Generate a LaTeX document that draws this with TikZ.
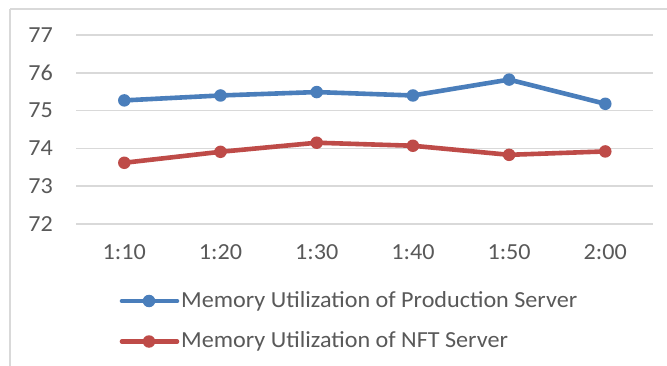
\documentclass[tikz,border=0pt]{standalone}
\usepackage{fontspec}
\setmainfont[FakeStretch=1.05]{Carlito}
\definecolor{serblue}{HTML}{4A7EBB}
\definecolor{serred}{HTML}{BE4B48}
\definecolor{gridc}{HTML}{D9D9D9}
\definecolor{txtc}{HTML}{595959}
\tikzset{
  gridline/.style={draw=gridc, line width=1.6pt},
  frameline/.style={draw=gridc, line width=1.6pt},
  lbl/.style={text=txtc, inner sep=0pt, font=\fontsize{23}{26}\selectfont},
  serline/.style={line width=4.6pt, line cap=round, line join=round},
  mk/.style={circle, inner sep=0pt, minimum size=12.5pt},
}
\begin{document}
\begin{tikzpicture}[x=1pt, y=-1pt]
\useasboundingbox (0,0) rectangle (667,366);
\fill[white] (0,0) rectangle (667,366);
% frame
\draw[frameline] (10,9) -- (670,9);
\draw[frameline] (10,9) -- (10,370);
% grid and y labels
\foreach \v/\yy in {77/35, 76/72.8, 75/110.6, 74/148.4, 73/186.2, 72/224}{
  \draw[gridline] (76,\yy) -- (653,\yy);
  \node[lbl, anchor=east] (y\v) at (53,\yy) {\v};
}
% x labels
\foreach \i/\xx/\t in {1/124.3/1:10, 2/220.5/1:20, 3/316.7/1:30, 4/412.9/1:40, 5/509.1/1:50, 6/605.3/2:00}{
  \node[lbl] (x\i) at (\xx,252) {\t};
}
% data: y = 224 - (v-72)*37.8
\foreach \i/\xx/\v in {1/124.3/75.27, 2/220.5/75.40, 3/316.7/75.49, 4/412.9/75.40, 5/509.1/75.82, 6/605.3/75.18}{
  \coordinate (b\i) at (\xx,{224-(\v-72)*37.8});
}
\foreach \i/\xx/\v in {1/124.3/73.62, 2/220.5/73.91, 3/316.7/74.15, 4/412.9/74.07, 5/509.1/73.83, 6/605.3/73.92}{
  \coordinate (r\i) at (\xx,{224-(\v-72)*37.8});
}
\draw[serline, serblue] (b1) -- (b2) -- (b3) -- (b4) -- (b5) -- (b6);
\draw[serline, serred] (r1) -- (r2) -- (r3) -- (r4) -- (r5) -- (r6);
\foreach \i in {1,...,6}{
  \node[mk, fill=serblue] (bm\i) at (b\i) {};
  \node[mk, fill=serred] (rm\i) at (r\i) {};
}
% legend
\coordinate (lb1) at (122,301);
\coordinate (lb2) at (177,301);
\coordinate (lr1) at (122,341.5);
\coordinate (lr2) at (177,341.5);
\draw[serline, serblue] (lb1) -- (lb2);
\draw[serline, serred] (lr1) -- (lr2);
\node[mk, fill=serblue] (lbm) at (149,301) {};
\node[mk, fill=serred] (lrm) at (149,341.5) {};
\node[lbl, anchor=west] (lbt) at (181,301) {Memory Utilization of Production Server};
\node[lbl, anchor=west] (lrt) at (181,341.5) {Memory Utilization of NFT Server};
\end{tikzpicture}
\end{document}
